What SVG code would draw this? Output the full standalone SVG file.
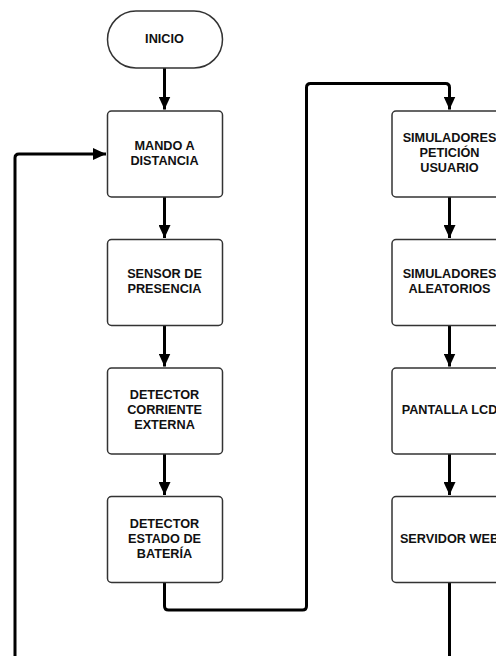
<svg xmlns="http://www.w3.org/2000/svg" width="496" height="656" viewBox="0 0 496 656">
<style>
.box{fill:#fff;stroke:#333;stroke-width:1.5}
.lbl{font-family:"Liberation Sans",Arial,sans-serif;font-weight:bold;font-size:12.7px;fill:#111;text-anchor:middle}
.con{fill:none;stroke:#000;stroke-width:3;stroke-linejoin:round}
</style>
<defs>
<marker id="ah" markerUnits="userSpaceOnUse" markerWidth="13" markerHeight="12" refX="13" refY="6" orient="auto">
<path d="M0,0 L13,6 L0,12 z" fill="#000"/>
</marker>
</defs>
<rect width="496" height="656" fill="#fff"/>
<g id="connectors">
<path class="con" d="M164.5,68 V109.5" marker-end="url(#ah)"/>
<path class="con" d="M164.5,197 V238" marker-end="url(#ah)"/>
<path class="con" d="M164.5,325.5 V366.5" marker-end="url(#ah)"/>
<path class="con" d="M164.5,454 V495" marker-end="url(#ah)"/>
<path class="con" d="M164.5,582.5 V606 Q164.5,610 168.5,610 H302.5 Q306.5,610 306.5,606 V87.5 Q306.5,83.5 310.5,83.5 H445.5 Q449.5,83.5 449.5,87.5 V109.5" marker-end="url(#ah)"/>
<path class="con" d="M449.5,197 V238" marker-end="url(#ah)"/>
<path class="con" d="M449.5,325.5 V366.5" marker-end="url(#ah)"/>
<path class="con" d="M449.5,454 V495" marker-end="url(#ah)"/>
<path class="con" d="M449.5,582.5 V660"/>
<path class="con" d="M15,660 V158 Q15,154 19,154 H106" marker-end="url(#ah)"/>
</g>
<g id="inicio">
<rect class="box" x="107.5" y="11" width="115" height="57" rx="28.5"/>
<text class="lbl" x="164.5" y="42.5">INICIO</text>
</g>
<g id="mando">
<rect class="box" x="107.5" y="111" width="115" height="86" rx="4"/>
<text class="lbl" x="164.5" y="149.5">MANDO A</text>
<text class="lbl" x="164.5" y="164.5">DISTANCIA</text>
</g>
<g id="sensor">
<rect class="box" x="107.5" y="239.5" width="115" height="86" rx="4"/>
<text class="lbl" x="164.5" y="278">SENSOR DE</text>
<text class="lbl" x="164.5" y="293">PRESENCIA</text>
</g>
<g id="detector-corriente">
<rect class="box" x="107.5" y="368" width="115" height="86" rx="4"/>
<text class="lbl" x="164.5" y="399">DETECTOR</text>
<text class="lbl" x="164.5" y="414">CORRIENTE</text>
<text class="lbl" x="164.5" y="429">EXTERNA</text>
</g>
<g id="detector-bateria">
<rect class="box" x="107.5" y="496.5" width="115" height="86" rx="4"/>
<text class="lbl" x="164.5" y="527.5">DETECTOR</text>
<text class="lbl" x="164.5" y="542.5">ESTADO DE</text>
<text class="lbl" x="164.5" y="557.5">BATERÍA</text>
</g>
<g id="sim-peticion">
<rect class="box" x="392" y="111" width="115" height="86" rx="4"/>
<text class="lbl" x="449.5" y="142">SIMULADORES</text>
<text class="lbl" x="449.5" y="157">PETICIÓN</text>
<text class="lbl" x="449.5" y="172">USUARIO</text>
</g>
<g id="sim-aleatorios">
<rect class="box" x="392" y="239.5" width="115" height="86" rx="4"/>
<text class="lbl" x="449.5" y="278">SIMULADORES</text>
<text class="lbl" x="449.5" y="293">ALEATORIOS</text>
</g>
<g id="pantalla">
<rect class="box" x="392" y="368" width="115" height="86" rx="4"/>
<text class="lbl" x="449.5" y="414">PANTALLA LCD</text>
</g>
<g id="servidor">
<rect class="box" x="392" y="496.5" width="115" height="86" rx="4"/>
<text class="lbl" x="449.5" y="542.5">SERVIDOR WEB</text>
</g>
</svg>
